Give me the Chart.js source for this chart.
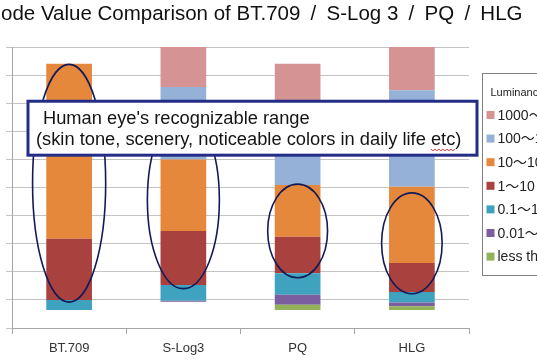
<!DOCTYPE html>
<html>
<head>
<meta charset="utf-8">
<script src="https://cdn.jsdelivr.net/npm/chart.js@4/dist/chart.umd.min.js"></script>
<style>
  html, body { margin: 0; padding: 0; background: #ffffff; overflow: hidden; }
  canvas { display: block; }
</style>
</head>
<body>
<canvas id="c" width="537" height="360"></canvas>
<script>
// ---- Data (10-bit code values) ----
const categories = ["BT.709", "S-Log3", "PQ", "HLG"];
const titleText = "Code Value Comparison of BT.709\u2002/\u2002S-Log 3\u2002/\u2002PQ\u2002/\u2002HLG";
const legendTitle = "Luminance (nits)";
const yTicks = { min: 0, max: 1000, step: 100 };

// stacked segment sizes, bottom to top
const baseBelowBlack = [64, 93, 64, 64];      // invisible part under black level
const lessThan001   = [0, 0, 19, 13];
const from001to01   = [0, 4, 35, 14];
const from01to1     = [36, 56, 77, 37];
const from1to10     = [218, 192, 130, 103];
const from10to100   = [622, 255, 184, 272];
const from100to1000 = [0, 258, 214, 343];
const from1000to10000 = [0, 142, 217, 154];

const seriesLabels = ["less than 0.01", "0.01\uFF5E0.1", "0.1\uFF5E1", "1\uFF5E10", "10\uFF5E100", "100\uFF5E1000", "1000\uFF5E10000"];
const seriesColors = ["#93B35A", "#7B5E9F", "#3FA2BE", "#A9423F", "#E5883C", "#96B1D8", "#D69393"];

// annotation ellipses (value range and half width as share of a category)
const ellipseTop = [938, 771, 512, 481];
const ellipseBottom = [92, 140, 179, 122];
const ellipseHalfWidth = [0.32, 0.315, 0.262, 0.265];
const noteLines = ["Human eye's recognizable range", "(skin tone, scenery, noticeable colors in daily life etc)"];
const noteRange = [807, 615];

const seriesValues = [lessThan001, from001to01, from01to1, from1to10, from10to100, from100to1000, from1000to10000];

const datasets = [{
  label: "base", data: baseBelowBlack, backgroundColor: "rgba(0,0,0,0)", stack: "s"
}].concat(seriesValues.map((v, i) => ({
  label: seriesLabels[i], data: v, backgroundColor: seriesColors[i], stack: "s"
})));

const titlePlugin = {
  id: "titlePlugin",
  afterDraw(chart) {
    const ctx = chart.ctx;
    ctx.save();
    ctx.font = '20.5px "Liberation Sans", "Noto Sans CJK JP", sans-serif';
    ctx.fillStyle = "#111111";
    ctx.textBaseline = "alphabetic";
    ctx.textAlign = "left";
    const cw = ctx.measureText("C").width;
    ctx.fillText(titleText, 1 - cw, 20);
    ctx.restore();
  }
};

const notePlugin = {
  id: "notePlugin",
  afterDatasetsDraw(chart) {
    const ctx = chart.ctx;
    const xs = chart.scales.x, ys = chart.scales.y;
    const cat = xs.getPixelForValue(1) - xs.getPixelForValue(0);
    ctx.save();
    // ellipses
    ctx.strokeStyle = "#121B58";
    ctx.lineWidth = 1.6;
    categories.forEach((c, i) => {
      const cx = xs.getPixelForValue(i);
      const yt = ys.getPixelForValue(ellipseTop[i]);
      const yb = ys.getPixelForValue(ellipseBottom[i]);
      ctx.beginPath();
      ctx.ellipse(cx, (yt + yb) / 2, ellipseHalfWidth[i] * cat, (yb - yt) / 2, 0, 0, Math.PI * 2);
      ctx.stroke();
    });
    // note box
    const ca = chart.chartArea;
    const x0 = ca.left + 16, x1 = ca.right + 8;
    const y0 = ys.getPixelForValue(noteRange[0]), y1 = ys.getPixelForValue(noteRange[1]);
    ctx.fillStyle = "#ffffff";
    ctx.fillRect(x0, y0, x1 - x0, y1 - y0);
    ctx.strokeStyle = "#232C86";
    ctx.lineWidth = 3;
    ctx.strokeRect(x0, y0, x1 - x0, y1 - y0);
    ctx.fillStyle = "#141414";
    ctx.font = '18.3px "Liberation Sans", Arial, sans-serif';
    ctx.textBaseline = "middle";
    ctx.fillText(noteLines[0], x0 + 15, y0 + 18);
    ctx.fillText(noteLines[1], x0 + 8, y0 + 39);
    // spell-check squiggle under "etc"
    const pre = ctx.measureText(noteLines[1].replace(/etc\)$/, "")).width;
    const w = ctx.measureText("etc").width;
    const sx = x0 + 8 + pre, sy = y0 + 48;
    ctx.strokeStyle = "#D04040";
    ctx.lineWidth = 1;
    ctx.beginPath();
    for (let k = 0; k <= w; k += 2) {
      const yy = sy + ((k / 2) % 2 === 0 ? 0 : 1.5);
      if (k === 0) ctx.moveTo(sx + k, yy); else ctx.lineTo(sx + k, yy);
    }
    ctx.stroke();
    ctx.restore();
  }
};

const legendPlugin = {
  id: "legendPlugin",
  afterDraw(chart) {
    const ctx = chart.ctx;
    ctx.save();
    const lx = 482.5, ly = 73.5, lh = 202;
    ctx.strokeStyle = "#7F7F7F";
    ctx.lineWidth = 1;
    ctx.strokeRect(lx, ly, 120, lh);
    ctx.fillStyle = "#222222";
    ctx.textBaseline = "middle";
    ctx.font = '11px "Liberation Sans", Arial, sans-serif';
    ctx.fillText(legendTitle, lx + 8, 93);
    ctx.font = '14px "Liberation Sans", "Noto Sans CJK JP", sans-serif';
    for (let j = 0; j < seriesLabels.length; j++) {
      const i = seriesLabels.length - 1 - j;
      const y = 115 + j * 23.6;
      ctx.fillStyle = seriesColors[i];
      ctx.fillRect(lx + 4, y - 4, 8, 8);
      ctx.fillStyle = "#222222";
      ctx.fillText(seriesLabels[i], lx + 15, y + 1);
    }
    ctx.restore();
  }
};

new Chart(document.getElementById("c"), {
  type: "bar",
  data: { labels: categories, datasets: datasets },
  options: {
    responsive: false,
    animation: false,
    devicePixelRatio: 1,
    layout: { padding: { top: 47, right: 68, left: 0, bottom: 0 } },
    plugins: { legend: { display: false }, tooltip: { enabled: false }, title: { display: false } },
    datasets: { bar: { barPercentage: 0.4, categoryPercentage: 1.0 } },
    scales: {
      x: {
        stacked: true,
        grid: { display: true, drawOnChartArea: false, drawTicks: true, tickLength: 6, color: "#A6A6A6", offset: true },
        border: { display: true, color: "#A6A6A6" },
        ticks: { color: "#333333", padding: 7, font: { family: "Liberation Sans", size: 13 } },
        afterFit(s) { s.height = 32; }
      },
      y: {
        stacked: true,
        min: yTicks.min, max: yTicks.max,
        ticks: { display: false, stepSize: yTicks.step },
        grid: { color: "#C4C4C4", tickLength: 6, drawTicks: true },
        border: { display: true, color: "#A6A6A6" },
        afterFit(s) { s.width = 12; }
      }
    }
  },
  plugins: [titlePlugin, notePlugin, legendPlugin]
});
</script>
</body>
</html>
